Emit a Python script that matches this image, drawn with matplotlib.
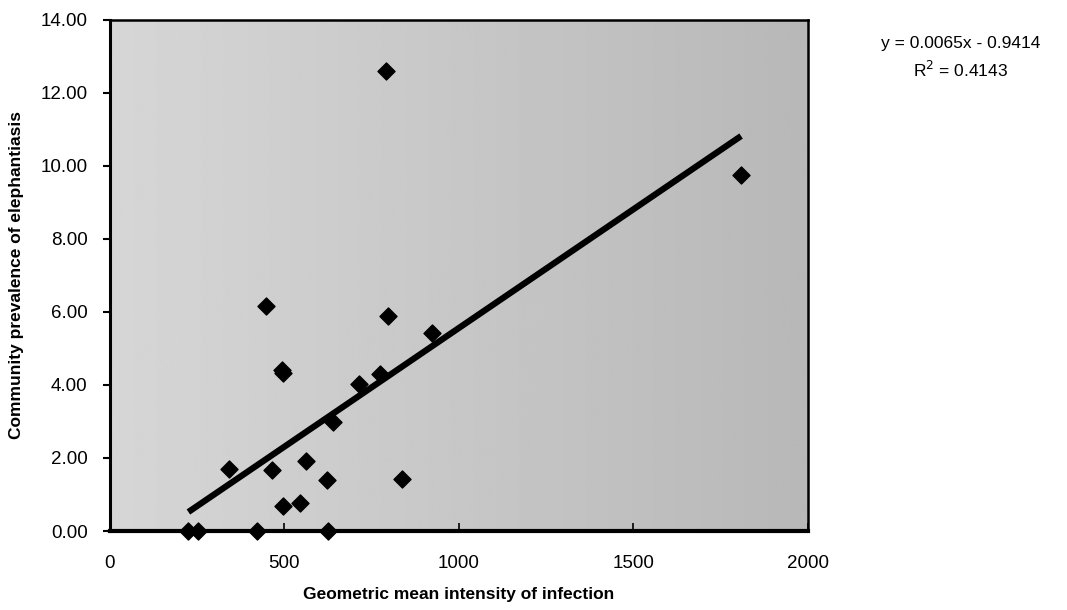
import numpy as np
import matplotlib
matplotlib.use("Agg")
import matplotlib.pyplot as plt

# geometric mean intensity vs community prevalence, one point per community
intensity = [225, 253, 423, 625, 340, 448, 465, 493, 497, 496, 546, 561,
             623, 638, 715, 775, 796, 837, 922, 790, 1809]
prevalence = [0.0, 0.0, 0.0, 0.0, 1.69, 6.16, 1.67, 4.40, 4.33, 0.68, 0.78,
              1.92, 1.40, 2.99, 4.02, 4.29, 5.89, 1.42, 5.42, 12.6, 9.75]

# trendline as printed on the chart
slope = 0.0065
intercept = -0.9414
r_squared = 0.4143

x_ticks = [0, 500, 1000, 1500, 2000]
y_ticks = [0, 2, 4, 6, 8, 10, 12, 14]

plt.rcParams['font.family'] = ['Liberation Sans', 'DejaVu Sans']

fig = plt.figure(figsize=(10.67, 6.10), dpi=100)
ax = fig.add_axes([0.103, 0.1295, 0.654, 0.838])

# grey plot area, a bit lighter on the left than on the right
shade = np.linspace(0.84, 0.72, 256).reshape(1, -1)
ax.imshow(shade, cmap='gray', vmin=0, vmax=1, aspect='auto',
          extent=[0, 1, 0, 1], transform=ax.transAxes, zorder=0)

ax.set_xlim(0, 2000)
ax.set_ylim(0, 14)

line_x = np.array([min(intensity), max(intensity)])
ax.plot(line_x, slope * line_x + intercept, color='black', lw=4.5,
        solid_capstyle='butt', zorder=2)
ax.scatter(intensity, prevalence, marker='D', s=75, color='black',
           clip_on=False, zorder=3)

ax.set_xticks(x_ticks)
ax.set_xticklabels([str(t) for t in x_ticks])
ax.set_yticks(y_ticks)
ax.set_yticklabels(['%.2f' % t for t in y_ticks])
ax.tick_params(axis='x', direction='in', length=6, width=1.2, pad=17,
               labelsize=13.5)
ax.tick_params(axis='y', direction='out', length=5, width=1.5, pad=11,
               labelsize=13.5)

for side in ['top', 'right']:
    ax.spines[side].set_linewidth(1.8)
ax.spines['left'].set_linewidth(2.2)
ax.spines['bottom'].set_linewidth(3)

ax.set_xlabel('Geometric mean intensity of infection', fontsize=12.5,
              fontweight='bold', labelpad=11)
ax.set_ylabel('Community prevalence of elephantiasis', fontsize=12.5,
              fontweight='bold', labelpad=12)

# equation box to the right of the plot
fig.text(0.9, 0.928, 'y = %.4fx - %.4f' % (slope, -intercept),
         ha='center', va='center', fontsize=12.5)
fig.text(0.9, 0.885, 'R$^2$ = %.4f' % r_squared,
         ha='center', va='center', fontsize=12.5)

fig.savefig('out.png', dpi=100)
